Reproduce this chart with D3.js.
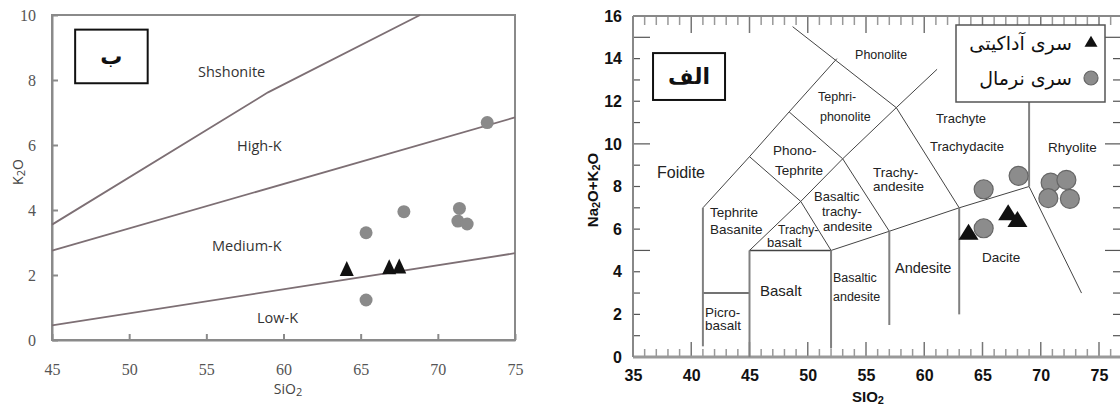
<!DOCTYPE html>
<html><head><meta charset="utf-8">
<script src="https://cdn.jsdelivr.net/npm/d3@7"></script>
<style>body{margin:0;background:#fff}svg{display:block}</style>
</head><body><svg id="c" width="1120" height="412"></svg>
<script>
// ---------- Left chart (K2O vs SiO2) ----------
const leftXTicks = [45, 50, 55, 60, 65, 70, 75];
const leftYTicks = [0, 2, 4, 6, 8, 10];
const kLineShoshonite = [[45, 3.55], [59, 7.62], [68.85, 10]];
const kLineHighK = [[45, 2.75], [75, 6.85]];
const kLineMediumK = [[45, 0.45], [75, 2.67]];
const leftFieldNames = ["Shshonite", "High-K", "Medium-K", "Low-K"];
const leftFieldAt = [[54.46, 8.25], [56.99, 6.0], [55.37, 2.92], [58.28, 0.68]];
const leftNormal = [[65.35, 3.3], [65.35, 1.23], [67.8, 3.95], [71.4, 4.05], [71.3, 3.66], [71.9, 3.57], [73.2, 6.69]];
const leftAdakitic = [[64.1, 2.12], [66.85, 2.18], [67.5, 2.2]];
const leftBadge = "ب";

// ---------- Right chart (TAS) ----------
const rightXTicks = [35, 40, 45, 50, 55, 60, 65, 70, 75];
const rightYTicks = [0, 2, 4, 6, 8, 10, 12, 14, 16];
const tasLines = [
  [[41, 7], [45, 9.4], [48.4, 11.5], [52.5, 14]],
  [[48.7, 15.5], [57.6, 11.7], [61.1, 13.5]],
  [[45, 5], [49.4, 7.3], [52, 5]],
  [[45, 9.4], [49.4, 7.3], [53, 9.3], [57, 5.9]],
  [[48.4, 11.5], [53, 9.3], [57.6, 11.7], [63, 7]],
  [[52, 5], [57, 5.9], [63, 7], [69, 8], [73.5, 3.0]]
];
const tasHorizontals = [[[41, 3], [45, 3]], [[45, 5], [52, 5]]];
const tasVerticals = [[41, 0.5, 7], [45, 0, 5], [52, 0.4, 5], [57, 1.5, 5.9], [63, 2, 7], [69, 8, 12.5]];
const tasNames = ["Phonolite", "Tephri-", "phonolite", "Phono-", "Tephrite", "Foidite", "Tephrite", "Basanite",
  "Trachy-", "basalt", "Basaltic", "trachy-", "andesite", "Trachy-", "andesite", "Trachyte", "Trachydacite",
  "Rhyolite", "Dacite", "Andesite", "Basaltic", "andesite", "Basalt", "Picro-", "basalt"];
const tasNameAt = [[54.06, 14.17], [50.88, 12.2], [51.05, 11.26], [47.02, 9.71], [47.19, 8.77], [37.06, 8.68],
  [41.61, 6.8], [41.61, 5.96], [47.45, 5.96], [46.5, 5.35], [50.54, 7.51], [51.22, 6.85], [51.31, 6.1],
  [55.6, 8.68], [55.6, 7.98], [61.0, 11.21], [60.49, 9.9], [70.62, 9.81], [64.96, 4.69], [57.49, 4.18],
  [52.17, 3.71], [52.17, 2.82], [45.9, 3.14], [41.18, 2.11], [41.18, 1.5]];
const tasNameSize = [12.5, 12.5, 12.5, 13.5, 13.5, 16, 13.5, 13.5, 12, 13, 13, 13, 13, 13.5, 13.5, 13, 13,
  13.5, 13.5, 14.5, 12.5, 12.5, 15, 13.5, 13.5];
const rightNormal = [[65.1, 7.87], [68.1, 8.5], [70.85, 8.18], [72.2, 8.31], [70.65, 7.45], [72.5, 7.42], [65.1, 6.04]];
const rightAdakitic = [[63.8, 5.75], [67.2, 6.67], [68.0, 6.35]];
const rightBadge = "الف";
const legendNames = ["سری آداکیتی", "سری نرمال"];

// ===================================================
const svg = d3.select("#c");
function tri(cx, cy, b, h) {
  return `M${cx},${cy - h * 2 / 3}L${cx + b / 2},${cy + h / 3}L${cx - b / 2},${cy + h / 3}Z`;
}

// ----- Left -----
const xL = d3.scaleLinear().domain([45, 75]).range([52, 515]);
const yL = d3.scaleLinear().domain([0, 10]).range([340, 15]);
const gL = svg.append("g");
// frame
gL.append("rect").attr("x", xL(45)).attr("y", yL(10)).attr("width", xL(75) - xL(45)).attr("height", yL(0) - yL(10))
  .attr("fill", "none").attr("stroke", "#8a8a8a").attr("stroke-width", 2);
const axL = gL.append("g").attr("transform", `translate(${xL(45)},0)`)
  .call(d3.axisLeft(yL).tickValues(leftYTicks).tickSize(-6).tickSizeOuter(0).tickPadding(16));
const axB = gL.append("g").attr("transform", `translate(0,${yL(0)})`)
  .call(d3.axisBottom(xL).tickValues(leftXTicks).tickSize(-6).tickSizeOuter(0).tickPadding(24));
[axL, axB].forEach(a => {
  a.select(".domain").attr("stroke", "#8a8a8a").attr("stroke-width", 2);
  a.selectAll(".tick line").attr("stroke", "#8a8a8a").attr("stroke-width", 2);
  a.selectAll(".tick text").attr("font-family", "Liberation Serif, serif").attr("font-size", 16).attr("fill", "#555");
});
const lineL = d3.line().x(d => xL(d[0])).y(d => yL(d[1]));
[kLineShoshonite, kLineHighK, kLineMediumK].forEach(l => {
  gL.append("path").attr("d", lineL(l)).attr("fill", "none").attr("stroke", "#7d6f74").attr("stroke-width", 1.8);
});
gL.selectAll("text.fld").data(leftFieldNames).join("text").attr("class", "fld")
  .attr("x", (d, i) => xL(leftFieldAt[i][0])).attr("y", (d, i) => yL(leftFieldAt[i][1]))
  .attr("dominant-baseline", "central").attr("font-family", "Open Sans, sans-serif").attr("font-size", 14.5)
  .attr("fill", "#333").text(d => d);
gL.selectAll("circle.pt").data(leftNormal).join("circle").attr("class", "pt")
  .attr("cx", d => xL(d[0])).attr("cy", d => yL(d[1])).attr("r", 6.5).attr("fill", "#8a8a8a");
gL.selectAll("path.tr").data(leftAdakitic).join("path").attr("class", "tr")
  .attr("d", d => tri(xL(d[0]), yL(d[1]), 14, 15)).attr("fill", "#111");
// badge
gL.append("rect").attr("x", xL(46.5)).attr("y", yL(9.55)).attr("width", xL(51.2) - xL(46.5)).attr("height", yL(7.9) - yL(9.55))
  .attr("fill", "#fff").attr("stroke", "#111").attr("stroke-width", 2);
gL.append("text").attr("x", (xL(46.5) + xL(51.2)) / 2).attr("y", (yL(9.55) + yL(7.9)) / 2)
  .attr("text-anchor", "middle").attr("dominant-baseline", "central")
  .attr("font-family", "DejaVu Sans, sans-serif").attr("font-weight", "bold").attr("font-size", 22).attr("fill", "#111").text(leftBadge);
// axis titles
gL.append("text").attr("x", 288).attr("y", 388).attr("text-anchor", "middle").attr("dominant-baseline", "central")
  .attr("font-family", "Open Sans, sans-serif").attr("font-size", 14).attr("fill", "#444")
  .html('SiO<tspan font-size="11" dy="3">2</tspan>');
gL.append("text").attr("transform", "translate(17,172) rotate(-90)").attr("text-anchor", "middle").attr("dominant-baseline", "central")
  .attr("font-family", "Open Sans, sans-serif").attr("font-size", 14).attr("fill", "#444")
  .html('K<tspan font-size="11" dy="3">2</tspan><tspan dy="-3">O</tspan>');

// ----- Right -----
const xR = d3.scaleLinear().domain([35, 75]).range([633, 1099]);
const yR = d3.scaleLinear().domain([0, 16]).range([357, 16]);
const gR = svg.append("g");
const xEnd = 1120;
const minorX = d3.range(36, 77);
const minorY = d3.range(1, 16);
// top ticks
gR.selectAll("line.tt").data(minorX).join("line").attr("class", "tt")
  .attr("x1", d => xR(d)).attr("x2", d => xR(d)).attr("y1", yR(16)).attr("y2", d => yR(16) + (d % 5 === 0 ? 17 : 9))
  .attr("stroke", d => d % 5 === 0 ? "#777" : "#999").attr("stroke-width", 1.5);
// bottom ticks
gR.selectAll("line.bt").data(minorX).join("line").attr("class", "bt")
  .attr("x1", d => xR(d)).attr("x2", d => xR(d)).attr("y1", yR(0)).attr("y2", d => yR(0) - (d % 5 === 0 ? 15 : 8))
  .attr("stroke", d => d % 5 === 0 ? "#777" : "#999").attr("stroke-width", 1.5);
// left ticks
gR.selectAll("line.lt").data(minorY).join("line").attr("class", "lt")
  .attr("y1", d => yR(d)).attr("y2", d => yR(d)).attr("x1", xR(35)).attr("x2", d => xR(35) + (d % 5 === 0 ? 17 : 7))
  .attr("stroke", "#555").attr("stroke-width", 1.2);
// right ticks
gR.selectAll("line.rt").data(minorY).join("line").attr("class", "rt")
  .attr("y1", d => yR(d)).attr("y2", d => yR(d)).attr("x1", xEnd).attr("x2", d => xEnd - (d % 5 === 0 ? 15 : 7))
  .attr("stroke", "#555").attr("stroke-width", 1.2);
// frame lines
gR.append("line").attr("x1", xR(35)).attr("x2", xEnd).attr("y1", yR(16)).attr("y2", yR(16)).attr("stroke", "#888").attr("stroke-width", 2);
gR.append("line").attr("x1", xR(35)).attr("x2", xEnd).attr("y1", yR(0)).attr("y2", yR(0)).attr("stroke", "#999").attr("stroke-width", 3);
gR.append("line").attr("x1", xR(35)).attr("x2", xR(35)).attr("y1", yR(16)).attr("y2", yR(0)).attr("stroke", "#888").attr("stroke-width", 2);
// axis labels
const axRL = gR.append("g").attr("transform", `translate(${xR(35)},0)`)
  .call(d3.axisLeft(yR).tickValues(rightYTicks).tickSize(0).tickPadding(11));
const axRB = gR.append("g").attr("transform", `translate(0,${yR(0)})`)
  .call(d3.axisBottom(xR).tickValues(rightXTicks).tickSize(0).tickPadding(13));
[axRL, axRB].forEach(a => {
  a.select(".domain").remove();
  a.selectAll(".tick text").attr("font-family", "Liberation Sans, Arial, sans-serif").attr("font-weight", "bold")
    .attr("font-size", 16).attr("fill", "#111");
});
// field lines
const lineR = d3.line().x(d => xR(d[0])).y(d => yR(d[1]));
tasLines.forEach(l => gR.append("path").attr("d", lineR(l)).attr("fill", "none").attr("stroke", "#444").attr("stroke-width", 1));
tasHorizontals.forEach(l => gR.append("path").attr("d", lineR(l)).attr("fill", "none").attr("stroke", "#444").attr("stroke-width", 1.6));
gR.selectAll("line.v").data(tasVerticals).join("line").attr("class", "v")
  .attr("x1", d => xR(d[0])).attr("x2", d => xR(d[0])).attr("y1", d => yR(d[1])).attr("y2", d => yR(d[2]))
  .attr("stroke", "#808080").attr("stroke-width", 2);
// field names
gR.selectAll("text.fn").data(tasNames).join("text").attr("class", "fn")
  .attr("x", (d, i) => xR(tasNameAt[i][0])).attr("y", (d, i) => yR(tasNameAt[i][1]))
  .attr("dominant-baseline", "central").attr("font-family", "Liberation Sans, Arial, sans-serif")
  .attr("font-size", (d, i) => tasNameSize[i]).attr("fill", "#222").text(d => d);
// points
gR.selectAll("circle.pt").data(rightNormal).join("circle").attr("class", "pt")
  .attr("cx", d => xR(d[0])).attr("cy", d => yR(d[1])).attr("r", 9.5)
  .attr("fill", "#8c8c8c").attr("stroke", "#666").attr("stroke-width", 1.2);
gR.selectAll("path.tr").data(rightAdakitic).join("path").attr("class", "tr")
  .attr("d", d => tri(xR(d[0]), yR(d[1]), 20, 16)).attr("fill", "#111");
// badge
gR.append("rect").attr("x", xR(36.72)).attr("y", yR(14.26)).attr("width", xR(42.9) - xR(36.72)).attr("height", yR(12.06) - yR(14.26))
  .attr("fill", "#fff").attr("stroke", "#111").attr("stroke-width", 2);
gR.append("text").attr("x", (xR(36.72) + xR(42.9)) / 2).attr("y", (yR(14.26) + yR(12.06)) / 2)
  .attr("text-anchor", "middle").attr("dominant-baseline", "central")
  .attr("font-family", "DejaVu Sans, sans-serif").attr("font-weight", "bold").attr("font-size", 22).attr("fill", "#111").text(rightBadge);
// legend
const lg = gR.append("g");
lg.append("rect").attr("x", 956).attr("y", 25).attr("width", 149).attr("height", 77)
  .attr("fill", "#fff").attr("stroke", "#555").attr("stroke-width", 1.5);
lg.append("path").attr("d", tri(1091, 43, 13, 11)).attr("fill", "#111");
lg.append("circle").attr("cx", 1091).attr("cy", 78).attr("r", 7).attr("fill", "#8c8c8c").attr("stroke", "#666").attr("stroke-width", 1.2);
lg.selectAll("text").data(legendNames).join("text")
  .attr("x", 1072).attr("y", (d, i) => i === 0 ? 43 : 78).attr("text-anchor", "end").attr("dominant-baseline", "central")
  .attr("font-family", "DejaVu Sans, sans-serif").attr("font-size", 19).attr("fill", "#111").text(d => d);
// axis titles
gR.append("text").attr("x", 868).attr("y", 396).attr("text-anchor", "middle").attr("dominant-baseline", "central")
  .attr("font-family", "Liberation Sans, Arial, sans-serif").attr("font-weight", "bold").attr("font-size", 15).attr("fill", "#111")
  .html('SIO<tspan font-size="11" dy="4">2</tspan>');
gR.append("text").attr("transform", "translate(592,190) rotate(-90)").attr("text-anchor", "middle").attr("dominant-baseline", "central")
  .attr("font-family", "Liberation Sans, Arial, sans-serif").attr("font-weight", "bold").attr("font-size", 15).attr("fill", "#111")
  .html('Na<tspan font-size="11" dy="4">2</tspan><tspan dy="-4">O+K</tspan><tspan font-size="11" dy="4">2</tspan><tspan dy="-4">O</tspan>');
</script></body></html>
